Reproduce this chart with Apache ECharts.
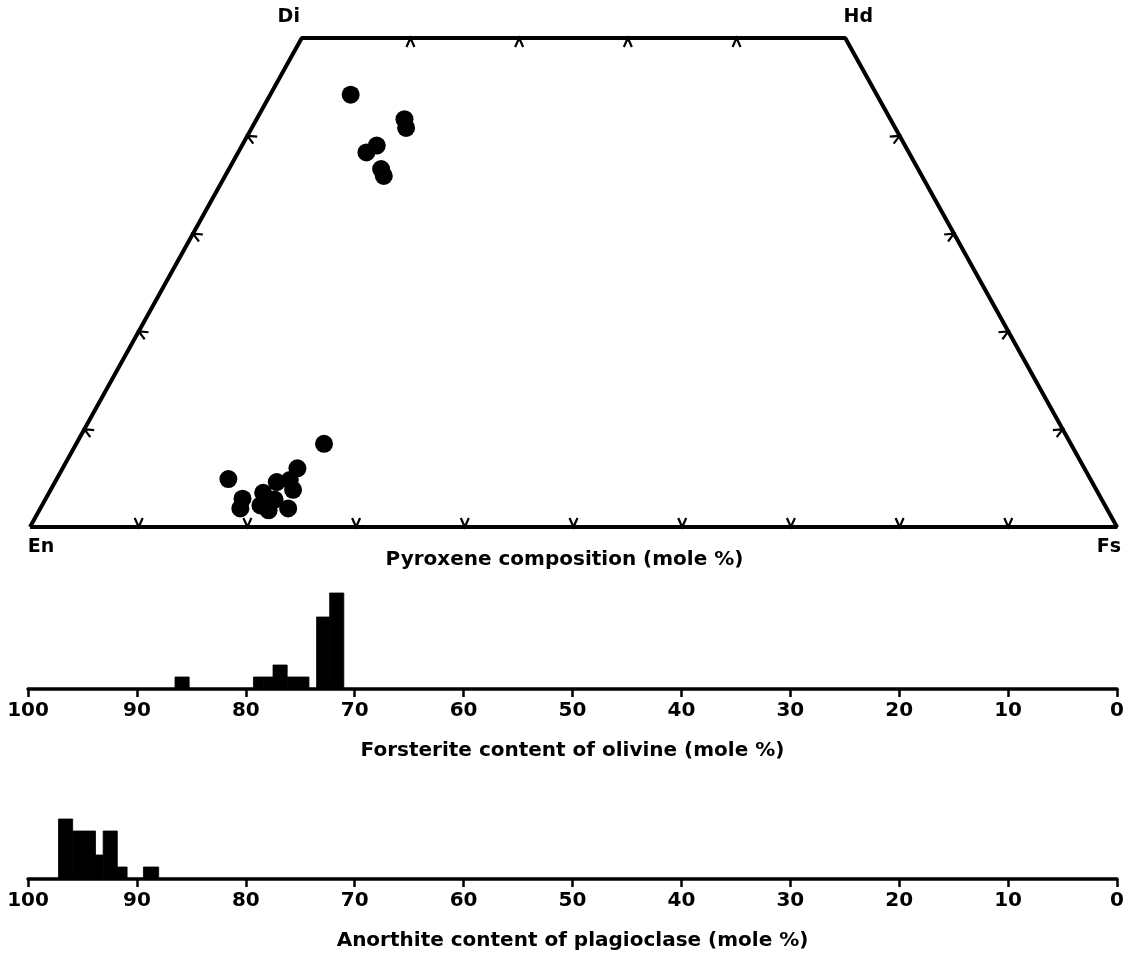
<!DOCTYPE html>
<html>
<head>
<meta charset="utf-8">
<script src="https://cdn.jsdelivr.net/npm/echarts@6/dist/echarts.min.js"></script>
<style>
html,body{margin:0;padding:0;background:#fff;}
#chart{width:1129px;height:965px;}
</style>
</head>
<body>
<div id="chart"></div>
<script>
// ---------- DATA ----------
// Pyroxene analyses (mole %): Wo (wollastonite) and Fs (ferrosilite)
const pxWo = [44.2, 41.7, 40.8, 38.3, 39.0, 36.6, 35.9, 8.5, 4.9, 2.9, 1.9, 6.0, 4.8, 4.6, 3.5, 3.8, 1.9, 1.7, 2.8, 2.2];
const pxFs = [7.4, 13.6, 14.2, 11.8, 12.4, 14.0, 14.6, 22.8, 15.8, 18.1, 18.4, 21.6, 21.5, 20.4, 19.7, 22.3, 22.8, 21.1, 21.1, 20.1];

// Olivine histogram: bin edges (Fo mole %) and counts
const foLo    = [85.2, 78.4, 77.5, 76.2, 75.2, 74.2, 72.3, 71.0];
const foHi    = [86.5, 79.3, 78.4, 77.5, 76.2, 75.2, 73.5, 72.3];
const foCount = [1, 1, 1, 2, 1, 1, 6, 8];

// Plagioclase histogram: bin edges (An mole %) and counts
const anLo    = [95.9, 93.8, 93.1, 91.8, 90.9, 88.0];
const anHi    = [97.2, 95.9, 93.8, 93.1, 91.8, 89.4];
const anCount = [5, 4, 2, 4, 1, 1];

// Tick labels / names
const compTicks = [10, 20, 30, 40, 50, 60, 70, 80, 90];
const sideTicks = [10, 20, 30, 40];
const cornerNames = ['En', 'Di', 'Hd', 'Fs'];
const pyxTitle = 'Pyroxene composition (mole %)';
const foTitle = 'Forsterite content of olivine (mole %)';
const anTitle = 'Anorthite content of plagioclase (mole %)';

// ---------- BUILD ----------
const FONT = '"DejaVu Sans", sans-serif';
// quadrilateral coordinates: x = Fs + Wo/2, y = Wo
const quadPts = pxWo.map((w, i) => [pxFs[i] + w / 2, w]);
const outline = [[0, 0], [25, 50], [75, 50], [100, 0], [0, 0]];
const corners = [[0, 0], [25, 50], [75, 50], [100, 0]];

const tickData = [];
compTicks.forEach(f => tickData.push([f, 0, 0]));              // bottom (En-Fs)
sideTicks.forEach(f => tickData.push([25 + f, 50, 1]));        // top (Di-Hd)
sideTicks.forEach(w => tickData.push([w / 2, w, 2]));          // left (En-Di)
sideTicks.forEach(w => tickData.push([100 - w / 2, w, 3]));    // right (Fs-Hd)

function histItem(params, api) {
  const lo = api.value(0), hi = api.value(1), c = api.value(2);
  const a = api.coord([hi, c]);
  const b = api.coord([lo, 0]);
  return {
    type: 'rect',
    shape: { x: Math.min(a[0], b[0]), y: a[1], width: Math.abs(b[0] - a[0]), height: b[1] - a[1] },
    style: { fill: '#000', stroke: '#000', lineWidth: 0.8 }
  };
}

function histAxis(gridIndex, name) {
  return {
    gridIndex: gridIndex, type: 'value', min: 0, max: 100, interval: 10, inverse: true,
    axisLine: { show: true, onZero: false, lineStyle: { color: '#000', width: 3.5 } },
    axisTick: { show: true, inside: false, length: 8, lineStyle: { color: '#000', width: 2.5 } },
    axisLabel: { margin: 12, color: '#000', fontFamily: FONT, fontWeight: 'bold', fontSize: 20 },
    splitLine: { show: false },
    name: name, nameLocation: 'middle', nameGap: 52,
    nameTextStyle: { color: '#000', fontFamily: FONT, fontWeight: 'bold', fontSize: 20 }
  };
}

const option = {
  backgroundColor: '#fff',
  animation: false,
  grid: [
    { left: 30, top: 38, width: 1087, height: 489 },
    { left: 28, top: 569, width: 1089, height: 120 },
    { left: 28, top: 759, width: 1089, height: 120 }
  ],
  xAxis: [
    { gridIndex: 0, type: 'value', min: 0, max: 100, show: false },
    histAxis(1, foTitle),
    histAxis(2, anTitle)
  ],
  yAxis: [
    { gridIndex: 0, type: 'value', min: 0, max: 50, show: false },
    { gridIndex: 1, type: 'value', min: 0, max: 10, show: false },
    { gridIndex: 2, type: 'value', min: 0, max: 10, show: false }
  ],
  graphic: [
    { type: 'text', left: 'center', top: 550, style: { text: pyxTitle, fill: '#000', font: 'bold 20px ' + FONT } }
  ],
  series: [
    {
      type: 'line', xAxisIndex: 0, yAxisIndex: 0, data: outline, symbol: 'none',
      lineStyle: { color: '#000', width: 4 }, silent: true
    },
    {
      type: 'custom', xAxisIndex: 0, yAxisIndex: 0, data: tickData, silent: true,
      renderItem: function (params, api) {
        const p = api.coord([api.value(0), api.value(1)]);
        const side = api.value(2);
        let n;
        if (side === 0) n = [0, -1];
        else if (side === 1) n = [0, 1];
        else {
          const A = side === 2 ? api.coord([0, 0]) : api.coord([100, 0]);
          const B = side === 2 ? api.coord([25, 50]) : api.coord([75, 50]);
          let tx = B[0] - A[0], ty = B[1] - A[1];
          const L = Math.hypot(tx, ty); tx /= L; ty /= L;
          n = side === 2 ? [-ty, tx] : [ty, -tx];
        }
        const t = [-n[1], n[0]];
        const h = 9, w = 4;
        return {
          type: 'polyline',
          shape: { points: [
            [p[0] + n[0] * h + t[0] * w, p[1] + n[1] * h + t[1] * w],
            [p[0], p[1]],
            [p[0] + n[0] * h - t[0] * w, p[1] + n[1] * h - t[1] * w]
          ] },
          style: { stroke: '#000', lineWidth: 2.2, fill: null }
        };
      }
    },
    {
      type: 'scatter', xAxisIndex: 0, yAxisIndex: 0, data: quadPts,
      symbol: 'circle', symbolSize: 18, itemStyle: { color: '#000', opacity: 1 }, silent: true
    },
    {
      type: 'scatter', xAxisIndex: 0, yAxisIndex: 0, symbolSize: 0, silent: true,
      itemStyle: { opacity: 1 },
      data: corners.map((c, i) => ({
        value: c,
        label: {
          show: true, formatter: cornerNames[i], color: '#000', opacity: 1,
          fontFamily: FONT, fontWeight: 'bold', fontSize: 19,
          position: i === 0 || i === 3 ? 'bottom' : 'top',
          offset: i === 0 ? [11, 6] : i === 3 ? [-8, 6] : i === 1 ? [-13, -6] : [13, -6]
        }
      }))
    },
    {
      type: 'custom', xAxisIndex: 1, yAxisIndex: 1, renderItem: histItem, silent: true,
      data: foLo.map((lo, i) => [lo, foHi[i], foCount[i]])
    },
    {
      type: 'custom', xAxisIndex: 2, yAxisIndex: 2, renderItem: histItem, silent: true,
      data: anLo.map((lo, i) => [lo, anHi[i], anCount[i]])
    }
  ]
};

const chart = echarts.init(document.getElementById('chart'), null, { renderer: 'canvas' });
chart.setOption(option);
</script>
</body>
</html>
